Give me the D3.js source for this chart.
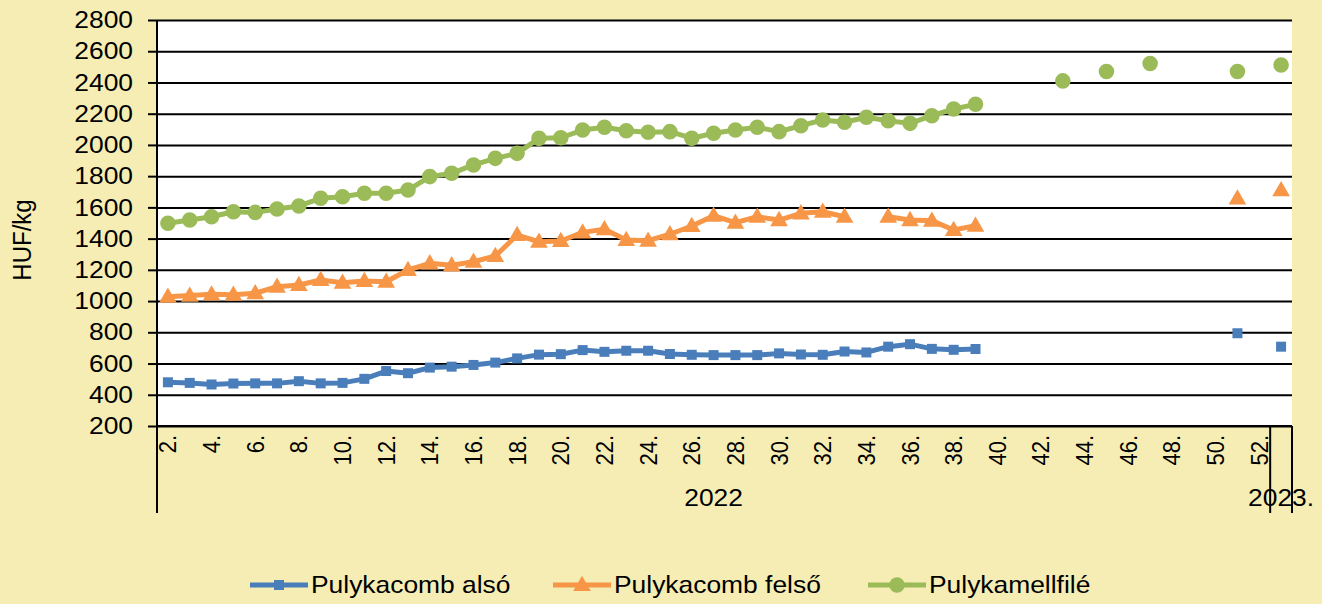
<!DOCTYPE html>
<html>
<head>
<meta charset="utf-8">
<script src="https://cdn.jsdelivr.net/npm/d3@7/dist/d3.min.js"></script>
<style>
  html, body { margin: 0; padding: 0; background: #F5EDB4; }
  svg { display: block; font-family: "Liberation Sans", Arial, sans-serif; }
</style>
</head>
<body>
<svg id="chart" width="1322" height="604"></svg>
<script>
// ---------- DATA ----------
const weekLabels = ["2.","3.","4.","5.","6.","7.","8.","9.","10.","11.","12.","13.","14.","15.","16.","17.","18.","19.","20.","21.","22.","23.","24.","25.","26.","27.","28.","29.","30.","31.","32.","33.","34.","35.","36.","37.","38.","39.","40.","41.","42.","43.","44.","45.","46.","47.","48.","49.","50.","51.","52.","1."];
const yearGroups = ["2022", "2023."];
const yearSpans = [51, 1]; // number of weeks in each year group
const yTicks = [200,400,600,800,1000,1200,1400,1600,1800,2000,2200,2400,2600,2800];

const seriesNames = ["Pulykacomb alsó", "Pulykacomb felső", "Pulykamellfilé"];

const combAlso = [480,476,466,472,473,473,487,473,476,502,552,538,574,580,591,606,633,657,660,686,675,682,682,661,656,654,654,654,665,658,656,677,671,708,724,694,688,693,
  null,null,null,null,null,null,null,null,null,null,null,794,null,708];

const combFelso = [1028,1035,1043,1041,1050,1092,1103,1135,1118,1129,1124,1199,1242,1229,1252,1289,1423,1380,1385,1440,1460,1391,1387,1428,1481,1547,1502,1540,1519,1562,1572,1540,null,1540,1519,1515,1455,1483,
  null,null,null,null,null,null,null,null,null,null,null,1657,null,1710];

const mellfile = [1498,1519,1540,1572,1568,1590,1609,1658,1668,1690,1690,1711,1797,1818,1872,1914,1946,2042,2046,2095,2113,2091,2081,2085,2043,2075,2095,2113,2085,2123,2160,2145,2177,2155,2138,2187,2230,2260,
  null,null,null,2410,null,2470,null,2522,null,null,null,2470,null,2512];

const colors = ["#4A7EBB", "#F79646", "#9BBB59"];
const symbols = [d3.symbolSquare, d3.symbolTriangle, d3.symbolCircle];
const symbolSizes = [100, 135, 190];

// ---------- LAYOUT ----------
const L = 157, R = 1292, T = 20, B = 426, AXB = 513;
const SX = 1.1; // horizontal text stretch seen in the reference
const FONT = "'Liberation Sans', Arial, sans-serif";
const svg = d3.select("#chart");

svg.append("rect").attr("x", L).attr("y", T).attr("width", R - L).attr("height", B - T).attr("fill", "#ffffff");

const idx = weekLabels.map((d, i) => i);
const x = d3.scaleBand().domain(idx).range([L, R]).padding(0);
const y = d3.scaleLinear().domain([200, 2800]).range([B, T]);

// gridlines
const grid = svg.append("g").attr("transform", `translate(${L},0)`)
  .call(d3.axisLeft(y).tickValues(yTicks).tickSize(-(R - L)).tickFormat(""));
grid.select(".domain").remove();
grid.selectAll("line").attr("stroke", "#000").attr("stroke-width", 2);

// y axis
const yAxis = svg.append("g").attr("transform", `translate(${L},0)`)
  .call(d3.axisLeft(y).tickValues(yTicks).tickSize(9).tickPadding(15).tickFormat(d3.format("d")));
yAxis.select(".domain").remove();
yAxis.selectAll("line").attr("stroke", "#000").attr("stroke-width", 2);
yAxis.selectAll("text").each(function() {
  const t = d3.select(this);
  const tx = +t.attr("x");
  t.attr("x", 0).attr("transform", `translate(${tx},0) scale(${SX},1)`)
   .attr("font-size", 24).attr("fill", "#000").attr("font-family", FONT);
});

// x axis labels
const xAxis = svg.append("g").attr("transform", `translate(0,${B})`)
  .call(d3.axisBottom(x).tickSize(0).tickFormat((d, i) => (i % 2 === 0 && i < 51) ? weekLabels[i] : ""));
xAxis.select(".domain").remove();
xAxis.selectAll("text")
  .attr("font-size", 22).attr("fill", "#000").attr("font-family", FONT)
  .attr("transform", `translate(0,9) scale(${SX},1) rotate(-90)`)
  .attr("text-anchor", "end")
  .attr("dy", "0.35em")
  .attr("x", 0).attr("y", 0);

// axis lines
svg.append("line").attr("x1", L).attr("x2", L).attr("y1", T).attr("y2", AXB).attr("stroke", "#000").attr("stroke-width", 2);
svg.append("line").attr("x1", L).attr("x2", R).attr("y1", B).attr("y2", B).attr("stroke", "#000").attr("stroke-width", 2);

// year groups
let start = 0;
yearGroups.forEach((g, gi) => {
  const x0 = x(start);
  const endIdx = start + yearSpans[gi] - 1;
  const x1 = x(endIdx) + x.bandwidth();
  svg.append("line").attr("x1", x1).attr("x2", x1).attr("y1", B).attr("y2", AXB).attr("stroke", "#000").attr("stroke-width", 2);
  svg.append("text").attr("transform", `translate(${(x0 + x1) / 2},506) scale(${SX},1)`)
    .attr("text-anchor", "middle").attr("font-size", 24).attr("fill", "#000").text(g);
  start += yearSpans[gi];
});

// y title
svg.append("text").attr("transform", `translate(31,240) scale(${SX},1) rotate(-90)`).attr("text-anchor", "middle")
  .attr("font-size", 24).attr("fill", "#000").text("HUF/kg");

// series
const allSeries = [combAlso, combFelso, mellfile];
const cx = i => x(i) + x.bandwidth() / 2;
allSeries.forEach((vals, si) => {
  const line = d3.line().defined(d => d != null).x((d, i) => cx(i)).y(d => y(d));
  svg.append("path").datum(vals).attr("d", line).attr("fill", "none")
    .attr("stroke", colors[si]).attr("stroke-width", 5).attr("stroke-linejoin", "round");
  const sym = d3.symbol().type(symbols[si]).size(symbolSizes[si]);
  svg.append("g").selectAll("path").data(vals.map((v, i) => ({v, i})).filter(d => d.v != null))
    .join("path")
    .attr("transform", d => `translate(${cx(d.i)},${y(d.v) + (si === 1 ? 1 : 0)})`)
    .attr("d", sym).attr("fill", colors[si]);
});

// legend
const legendX = [250, 553, 868];
seriesNames.forEach((name, si) => {
  const g = svg.append("g").attr("transform", `translate(${legendX[si]},585)`);
  g.append("line").attr("x1", 0).attr("x2", 58).attr("y1", 0).attr("y2", 0)
    .attr("stroke", colors[si]).attr("stroke-width", 5);
  g.append("path").attr("transform", `translate(29,${si === 1 ? 1 : 0})`)
    .attr("d", d3.symbol().type(symbols[si]).size(symbolSizes[si])()).attr("fill", colors[si]);
  g.append("text").attr("transform", `translate(61,0) scale(${SX},1)`).attr("dy", "0.35em").attr("font-size", 24)
    .attr("fill", "#000").text(name);
});
</script>
</body>
</html>
